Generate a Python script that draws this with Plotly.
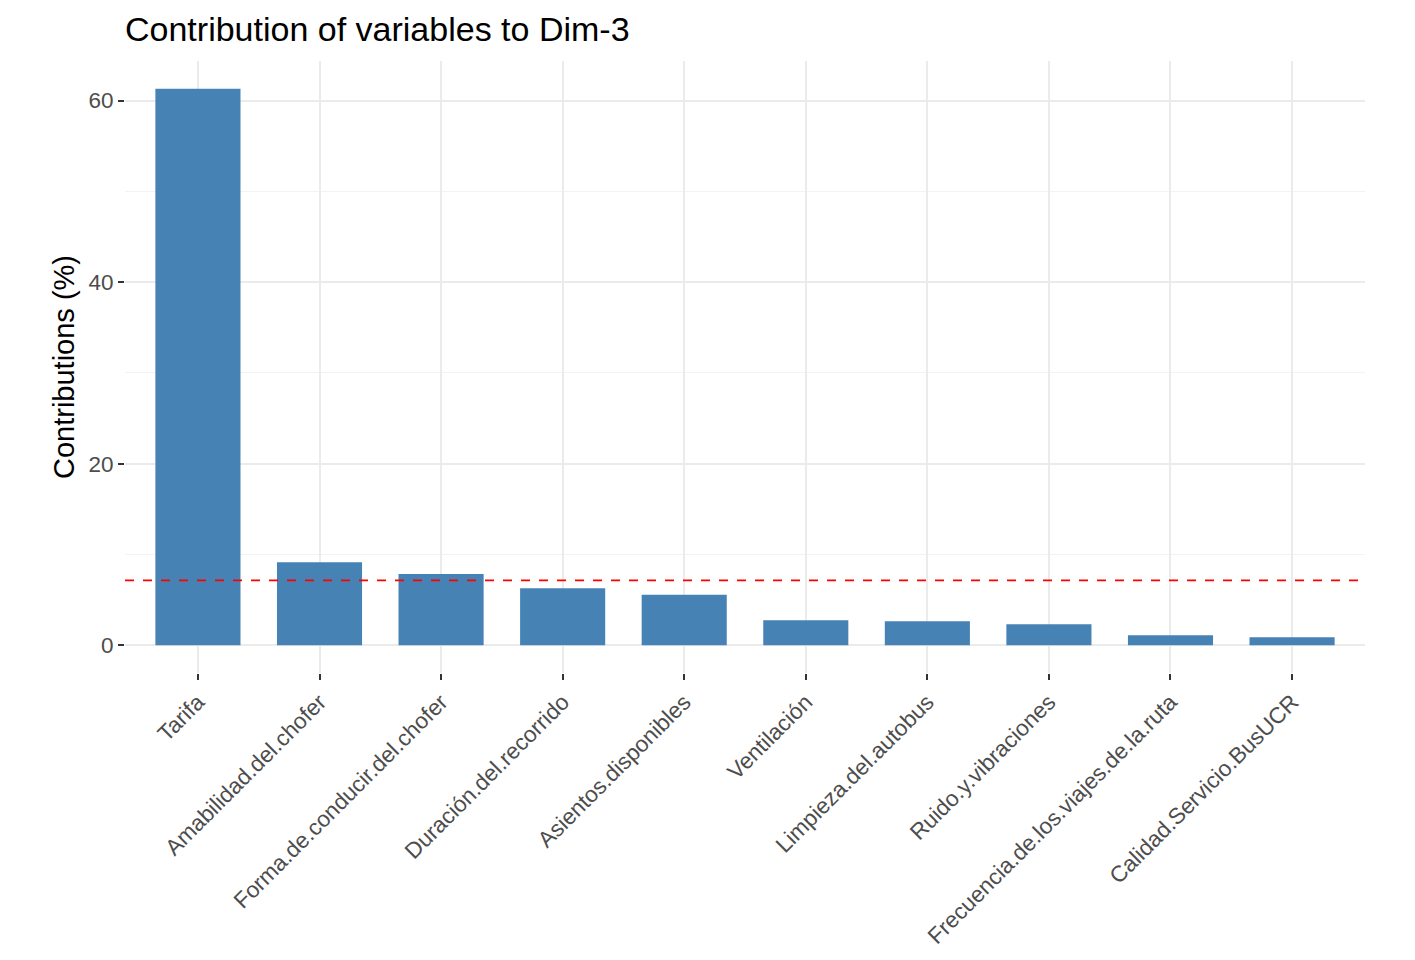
import plotly.graph_objects as go

categories = ["Tarifa", "Amabilidad.del.chofer", "Forma.de.conducir.del.chofer",
              "Duración.del.recorrido", "Asientos.disponibles", "Ventilación",
              "Limpieza.del.autobus", "Ruido.y.vibraciones",
              "Frecuencia.de.los.viajes.de.la.ruta", "Calidad.Servicio.BusUCR"]
contributions = [61.3, 9.15, 7.83, 6.28, 5.55, 2.76, 2.65, 2.3, 1.1, 0.88]
reference_line = 7.14
y_ticks = [0, 20, 40, 60]

fig = go.Figure()
fig.add_trace(go.Bar(x=categories, y=contributions, width=0.7,
                     marker=dict(color="#4682B4", line=dict(width=0))))

fig.add_shape(type="line", xref="paper", x0=0, x1=1, yref="y",
              y0=reference_line, y1=reference_line,
              line=dict(color="red", width=1.6, dash="dash"))

font_family = "Liberation Sans, Arial, sans-serif"
fig.update_layout(
    width=1415, height=960,
    margin=dict(l=117, r=58, t=53, b=295),
    paper_bgcolor="white", plot_bgcolor="white",
    showlegend=False,
    font=dict(family=font_family, color="#4d4d4d"),
    title=dict(text="Contribution of variables to Dim-3", x=0, xref="paper",
               xanchor="left", y=1 - 21 / 960, yref="container", yanchor="middle",
               font=dict(size=34, color="black", family=font_family)),
    bargap=0.3,
)
fig.update_xaxes(
    range=[-0.6, len(categories) - 0.4],
    showgrid=True, gridcolor="#ebebeb", gridwidth=1.5,
    ticks="outside", ticklen=6, tickwidth=1.5, tickcolor="#333333",
    tickangle=-45, tickfont=dict(size=22.5, color="#4d4d4d"),
    showline=False, zeroline=False,
)
fig.update_yaxes(
    range=[-0.05 * max(contributions), 1.05 * max(contributions)],
    tickvals=y_ticks, showgrid=True, gridcolor="#ebebeb", gridwidth=1.5,
    minor=dict(dtick=10, tick0=0, showgrid=True, gridcolor="#f3f3f3", gridwidth=1),
    ticks="outside", ticklen=6, tickwidth=1.5, tickcolor="#333333",
    tickfont=dict(size=22.5, color="#4d4d4d"),
    title=dict(text="Contributions (%)", font=dict(size=29, color="black"), standoff=5),
    showline=False, zeroline=False,
)

fig.write_html("out.html")
